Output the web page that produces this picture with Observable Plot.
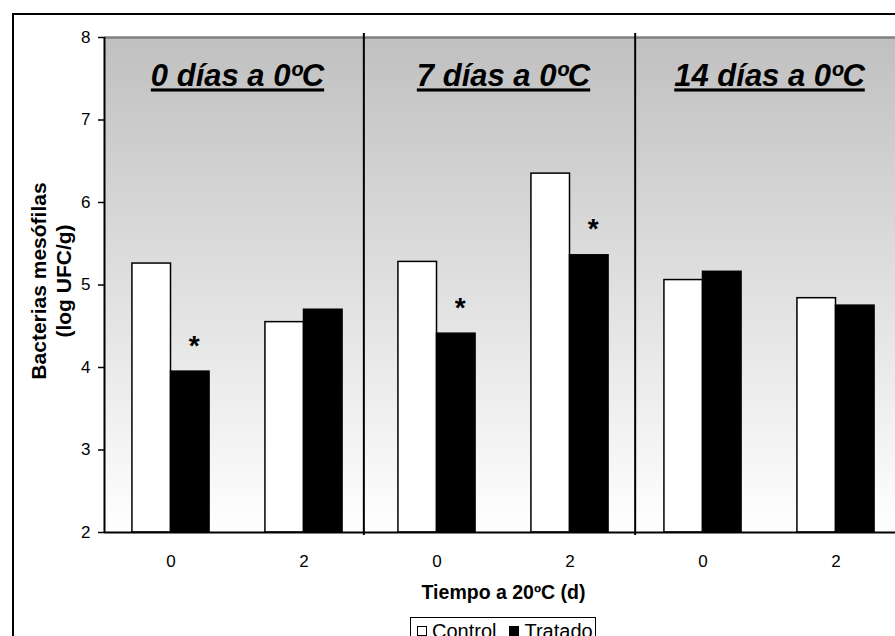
<!DOCTYPE html>
<html>
<head>
<meta charset="utf-8">
<script src="https://cdn.jsdelivr.net/npm/d3@7"></script>
<script src="https://cdn.jsdelivr.net/npm/@observablehq/plot@0.6"></script>
<style>
  html, body { margin: 0; padding: 0; background: #fff; overflow: hidden; width: 895px; height: 636px; }
  body { position: relative; font-family: Arial, "Liberation Sans", sans-serif; }
  #frame { position: absolute; left: 12px; top: 13px; width: 1000px; height: 1000px;
           border-left: 2px solid #000; border-top: 2px solid #000; pointer-events: none; }
  #chart svg { display: block; max-width: none !important; }
  #chart g[font-style="italic"] text { text-decoration: underline; text-decoration-thickness: 3px; }
  #legend { position: absolute; left: 410px; top: 617px; border: 1.5px solid #000; background: #fff;
            display: flex; align-items: center; gap: 13px; padding: 0 2px 0 6px; height: 26px;
            font-size: 20px; color: #000; white-space: nowrap; }
  .sw { display: inline-block; width: 8px; height: 8px; border: 1.5px solid #000; margin-right: 5px; }
</style>
</head>
<body>
<div id="chart"></div>
<div id="legend"></div>
<div id="frame"></div>
<script>
// ---- data ----
const groups = ["0 días a 0ºC", "7 días a 0ºC", "14 días a 0ºC"];
const categories = ["0", "2", "0", "2", "0", "2"];          // x tick labels (Tiempo a 20ºC)
const groupOf = [0, 0, 1, 1, 2, 2];
const series = ["Control", "Tratado"];
const control = [5.26, 4.55, 5.28, 6.35, 5.06, 4.84];
const tratado = [3.95, 4.70, 4.41, 5.36, 5.16, 4.75];
const significant = [true, false, true, true, false, false];
const separators = [1.95, 3.99];                             // group dividers, in category units
const yTicks = [2, 3, 4, 5, 6, 7, 8];
const yLabel = "Bacterias mesófilas\n(log UFC/g)";
const xLabel = "Tiempo a 20ºC (d)";

// ---- build tables ----
const barW = 0.29;
const bars = [];
categories.forEach((c, i) => {
  bars.push({i, series: series[0], value: control[i], x1: i + 0.5 - barW, x2: i + 0.5});
  bars.push({i, series: series[1], value: tratado[i], x1: i + 0.5, x2: i + 0.5 + barW});
});
const stars = categories.map((c, i) => ({i, value: tratado[i], x: i + 0.5 + barW / 2}))
  .filter(d => significant[d.i]);
const titles = groups.map((g, k) => {
  const idx = groupOf.map((v, i) => v === k ? i : -1).filter(i => i >= 0);
  return {label: g, x: d3.mean(idx) + 0.5};
});
const yMin = d3.min(yTicks), yMax = d3.max(yTicks);
const font = 'Arial, "Liberation Sans", sans-serif';
const tickFont = 17;

const plot = Plot.plot({
  width: 902,
  height: 617,
  marginLeft: 104,
  marginRight: 0,
  marginTop: 37,
  marginBottom: 85,
  x: {domain: [0, categories.length], label: null},
  y: {domain: [yMin, yMax], label: null},
  style: {fontFamily: font, background: "transparent", color: "#000", overflow: "visible"},
  marks: [
    Plot.frame({fill: "url(#bgGrad)", stroke: null}),
    Plot.ruleY([yMax], {stroke: "#808080", strokeWidth: 2.5}),
    Plot.rectY(bars, {
      x1: "x1", x2: "x2", y1: yMin, y2: "value",
      fill: d => d.series === "Control" ? "#fff" : "#000",
      stroke: "#000", strokeWidth: 1.5
    }),
    Plot.ruleX(separators, {stroke: "#000", strokeWidth: 2, insetTop: -4, insetBottom: -3}),
    Plot.ruleY([yMin], {stroke: "#000", strokeWidth: 2}),
    Plot.ruleX([0], {stroke: "#000", strokeWidth: 2}),
    Plot.text(stars, {x: "x", y: "value", text: () => "*", fontSize: 28, fontWeight: "bold", dx: 4, dy: -26}),
    Plot.text(titles, {x: "x", text: "label", frameAnchor: "top", lineAnchor: "middle", dy: 39,
      fontSize: 31, fontWeight: "bold", fontStyle: "italic"}),
    Plot.axisY({ticks: yTicks, tickFormat: d => String(d), tickSize: 6, tickPadding: 8, fontSize: tickFont,
      strokeWidth: 1.5, label: null}),
    Plot.axisX({ticks: categories.map((c, i) => i + 0.5), tickFormat: d => categories[Math.floor(d)],
      tickSize: 0, tickPadding: 22, fontSize: tickFont, label: null}),
    Plot.text([yLabel], {text: d => d, frameAnchor: "left", textAnchor: "middle", rotate: -90, dx: -54, dy: -4,
      lineAnchor: "middle", fontSize: 21, fontWeight: "bold", lineHeight: 1.2}),
    Plot.text([xLabel], {text: d => d, frameAnchor: "bottom", lineAnchor: "middle", dy: 60,
      fontSize: 19.5, fontWeight: "bold"})
  ]
});

// gradient definition for the plot-area background
const svg = d3.select(plot);
const defs = svg.insert("defs", ":first-child");
const grad = defs.append("linearGradient").attr("id", "bgGrad")
  .attr("x1", 0).attr("y1", 0).attr("x2", 0).attr("y2", 1);
grad.append("stop").attr("offset", "0%").attr("stop-color", "#c0c0c0");
grad.append("stop").attr("offset", "100%").attr("stop-color", "#ffffff");
// make sure tick labels use the intended size
svg.selectAll('g[aria-label*="tick label"]').attr("font-size", tickFont)
  .selectAll("text").style("font-size", tickFont + "px");

document.getElementById("chart").appendChild(plot);

// legend
const legend = d3.select("#legend");
series.forEach((s, k) => {
  const item = legend.append("span").style("display", "inline-flex").style("align-items", "center");
  item.append("span").attr("class", "sw").style("background", k === 0 ? "#fff" : "#000");
  item.append("span").text(s);
});
</script>
</body>
</html>
